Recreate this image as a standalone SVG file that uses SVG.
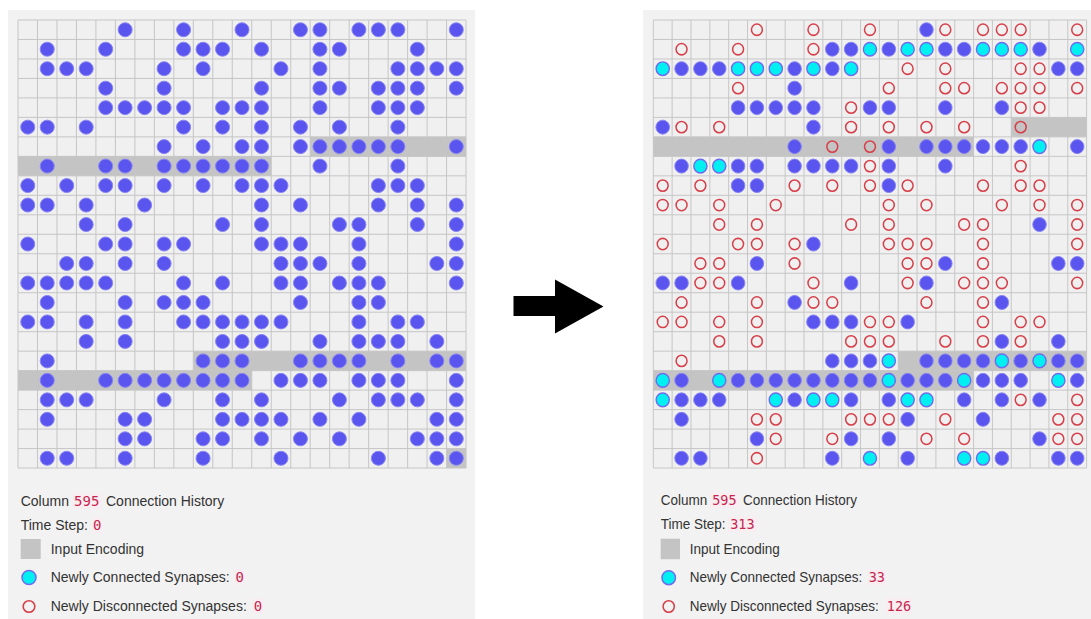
<svg xmlns="http://www.w3.org/2000/svg" xmlns:xlink="http://www.w3.org/1999/xlink" width="1091" height="619" viewBox="0 0 1091 619">
<style>
.panel{fill:#f2f2f2}
.cellbg{fill:#f0f0f0}
.band{fill:#c4c4c4}
.lines{fill:none;stroke:#c4c4c4;stroke-width:1}
.txt{font-family:"Liberation Sans",Arial,sans-serif;font-size:14px;fill:#333}
.code{font-family:"DejaVu Sans Mono","Liberation Mono",monospace;font-size:14px;fill:#c7254e;text-anchor:middle}
.codebg{fill:#f8eef2}
</style>
<defs>
<path id="lines" class="lines" d="M0 0V460M20 0V460M40 0V460M60 0V460M80 0V460M100 0V460M120 0V460M140 0V460M160 0V460M180 0V460M200 0V460M220 0V460M240 0V460M260 0V460M280 0V460M300 0V460M320 0V460M340 0V460M360 0V460M380 0V460M400 0V460M420 0V460M440 0V460M460 0V460M0 0H460M0 20H460M0 40H460M0 60H460M0 80H460M0 100H460M0 120H460M0 140H460M0 160H460M0 180H460M0 200H460M0 220H460M0 240H460M0 260H460M0 280H460M0 300H460M0 320H460M0 340H460M0 360H460M0 380H460M0 400H460M0 420H460M0 440H460M0 460H460"/>
<circle id="b" r="7.2" fill="#5a55ef" stroke="#8884f3" stroke-width="1"/>
<circle id="c" r="7" fill="#00f0f2" stroke="#6f6bee" stroke-width="1.5"/>
<circle id="r" r="5.8" fill="none" stroke="#d6404a" stroke-width="1.6"/>
</defs>
<rect width="1091" height="619" fill="#ffffff"/>

<g id="panel-left">
<rect class="panel" x="8" y="10" width="467" height="609"/>
<g id="grid-left" transform="translate(18,20) scale(0.974)">
<rect class="cellbg" width="460" height="460"/>
<rect class="band" x="300" y="120" width="160" height="20"/>
<rect class="band" x="0" y="140" width="260" height="20"/>
<rect class="band" x="180" y="340" width="280" height="20"/>
<rect class="band" x="0" y="360" width="240" height="20"/>
<rect class="band" x="440" y="440" width="20" height="20"/>
<use href="#lines"/>
<g transform="translate(0,10)"><use href="#b" x="110"/><use href="#b" x="170"/><use href="#b" x="230"/><use href="#b" x="290"/><use href="#b" x="310"/><use href="#b" x="350"/><use href="#b" x="370"/><use href="#b" x="390"/><use href="#b" x="450"/></g>
<g transform="translate(0,30)"><use href="#b" x="30"/><use href="#b" x="90"/><use href="#b" x="170"/><use href="#b" x="190"/><use href="#b" x="210"/><use href="#b" x="250"/><use href="#b" x="310"/><use href="#b" x="330"/><use href="#b" x="410"/></g>
<g transform="translate(0,50)"><use href="#b" x="30"/><use href="#b" x="50"/><use href="#b" x="70"/><use href="#b" x="150"/><use href="#b" x="190"/><use href="#b" x="270"/><use href="#b" x="310"/><use href="#b" x="390"/><use href="#b" x="410"/><use href="#b" x="430"/><use href="#b" x="450"/></g>
<g transform="translate(0,70)"><use href="#b" x="90"/><use href="#b" x="150"/><use href="#b" x="250"/><use href="#b" x="310"/><use href="#b" x="330"/><use href="#b" x="370"/><use href="#b" x="390"/><use href="#b" x="410"/><use href="#b" x="450"/></g>
<g transform="translate(0,90)"><use href="#b" x="90"/><use href="#b" x="110"/><use href="#b" x="130"/><use href="#b" x="150"/><use href="#b" x="170"/><use href="#b" x="210"/><use href="#b" x="230"/><use href="#b" x="250"/><use href="#b" x="310"/><use href="#b" x="370"/><use href="#b" x="390"/><use href="#b" x="410"/></g>
<g transform="translate(0,110)"><use href="#b" x="10"/><use href="#b" x="30"/><use href="#b" x="70"/><use href="#b" x="170"/><use href="#b" x="210"/><use href="#b" x="250"/><use href="#b" x="290"/><use href="#b" x="330"/><use href="#b" x="390"/></g>
<g transform="translate(0,130)"><use href="#b" x="150"/><use href="#b" x="190"/><use href="#b" x="230"/><use href="#b" x="250"/><use href="#b" x="290"/><use href="#b" x="310"/><use href="#b" x="330"/><use href="#b" x="350"/><use href="#b" x="370"/><use href="#b" x="390"/><use href="#b" x="450"/></g>
<g transform="translate(0,150)"><use href="#b" x="30"/><use href="#b" x="90"/><use href="#b" x="110"/><use href="#b" x="150"/><use href="#b" x="170"/><use href="#b" x="190"/><use href="#b" x="210"/><use href="#b" x="230"/><use href="#b" x="250"/><use href="#b" x="310"/><use href="#b" x="390"/></g>
<g transform="translate(0,170)"><use href="#b" x="10"/><use href="#b" x="50"/><use href="#b" x="90"/><use href="#b" x="110"/><use href="#b" x="150"/><use href="#b" x="190"/><use href="#b" x="230"/><use href="#b" x="250"/><use href="#b" x="270"/><use href="#b" x="370"/><use href="#b" x="390"/><use href="#b" x="410"/></g>
<g transform="translate(0,190)"><use href="#b" x="10"/><use href="#b" x="30"/><use href="#b" x="70"/><use href="#b" x="130"/><use href="#b" x="250"/><use href="#b" x="290"/><use href="#b" x="370"/><use href="#b" x="410"/><use href="#b" x="450"/></g>
<g transform="translate(0,210)"><use href="#b" x="70"/><use href="#b" x="110"/><use href="#b" x="210"/><use href="#b" x="250"/><use href="#b" x="330"/><use href="#b" x="350"/><use href="#b" x="410"/><use href="#b" x="450"/></g>
<g transform="translate(0,230)"><use href="#b" x="10"/><use href="#b" x="90"/><use href="#b" x="110"/><use href="#b" x="150"/><use href="#b" x="170"/><use href="#b" x="250"/><use href="#b" x="270"/><use href="#b" x="290"/><use href="#b" x="350"/><use href="#b" x="450"/></g>
<g transform="translate(0,250)"><use href="#b" x="50"/><use href="#b" x="70"/><use href="#b" x="110"/><use href="#b" x="150"/><use href="#b" x="270"/><use href="#b" x="290"/><use href="#b" x="310"/><use href="#b" x="350"/><use href="#b" x="430"/><use href="#b" x="450"/></g>
<g transform="translate(0,270)"><use href="#b" x="10"/><use href="#b" x="30"/><use href="#b" x="50"/><use href="#b" x="70"/><use href="#b" x="90"/><use href="#b" x="170"/><use href="#b" x="210"/><use href="#b" x="270"/><use href="#b" x="290"/><use href="#b" x="330"/><use href="#b" x="350"/><use href="#b" x="370"/><use href="#b" x="450"/></g>
<g transform="translate(0,290)"><use href="#b" x="30"/><use href="#b" x="110"/><use href="#b" x="150"/><use href="#b" x="170"/><use href="#b" x="190"/><use href="#b" x="290"/><use href="#b" x="350"/><use href="#b" x="370"/></g>
<g transform="translate(0,310)"><use href="#b" x="10"/><use href="#b" x="30"/><use href="#b" x="70"/><use href="#b" x="110"/><use href="#b" x="170"/><use href="#b" x="190"/><use href="#b" x="210"/><use href="#b" x="230"/><use href="#b" x="250"/><use href="#b" x="270"/><use href="#b" x="350"/><use href="#b" x="390"/><use href="#b" x="410"/></g>
<g transform="translate(0,330)"><use href="#b" x="70"/><use href="#b" x="110"/><use href="#b" x="210"/><use href="#b" x="230"/><use href="#b" x="250"/><use href="#b" x="310"/><use href="#b" x="350"/><use href="#b" x="370"/><use href="#b" x="390"/><use href="#b" x="430"/></g>
<g transform="translate(0,350)"><use href="#b" x="30"/><use href="#b" x="190"/><use href="#b" x="210"/><use href="#b" x="230"/><use href="#b" x="290"/><use href="#b" x="310"/><use href="#b" x="330"/><use href="#b" x="350"/><use href="#b" x="390"/><use href="#b" x="430"/><use href="#b" x="450"/></g>
<g transform="translate(0,370)"><use href="#b" x="30"/><use href="#b" x="90"/><use href="#b" x="110"/><use href="#b" x="130"/><use href="#b" x="150"/><use href="#b" x="170"/><use href="#b" x="190"/><use href="#b" x="210"/><use href="#b" x="230"/><use href="#b" x="270"/><use href="#b" x="290"/><use href="#b" x="310"/><use href="#b" x="350"/><use href="#b" x="370"/><use href="#b" x="390"/><use href="#b" x="450"/></g>
<g transform="translate(0,390)"><use href="#b" x="30"/><use href="#b" x="50"/><use href="#b" x="70"/><use href="#b" x="150"/><use href="#b" x="210"/><use href="#b" x="250"/><use href="#b" x="330"/><use href="#b" x="370"/><use href="#b" x="390"/><use href="#b" x="410"/><use href="#b" x="450"/></g>
<g transform="translate(0,410)"><use href="#b" x="30"/><use href="#b" x="110"/><use href="#b" x="130"/><use href="#b" x="210"/><use href="#b" x="230"/><use href="#b" x="250"/><use href="#b" x="270"/><use href="#b" x="310"/><use href="#b" x="350"/><use href="#b" x="430"/><use href="#b" x="450"/></g>
<g transform="translate(0,430)"><use href="#b" x="110"/><use href="#b" x="130"/><use href="#b" x="190"/><use href="#b" x="210"/><use href="#b" x="250"/><use href="#b" x="290"/><use href="#b" x="330"/><use href="#b" x="410"/><use href="#b" x="430"/><use href="#b" x="450"/></g>
<g transform="translate(0,450)"><use href="#b" x="30"/><use href="#b" x="50"/><use href="#b" x="110"/><use href="#b" x="190"/><use href="#b" x="270"/><use href="#b" x="370"/><use href="#b" x="430"/><use href="#b" x="450"/></g>
</g>
<g id="legend-left" transform="translate(20.7,0)">
<text class="txt" x="0" y="506">Column</text>
<rect class="codebg" x="51" y="493" width="30" height="16"/>
<text class="code" x="66" y="506">595</text>
<text class="txt" x="85.3" y="506">Connection History</text>
<text class="txt" x="0" y="530">Time Step:</text>
<rect class="codebg" x="71.5" y="517" width="10" height="16"/>
<text class="code" x="76.5" y="530">0</text>
<rect class="band" x="0" y="539" width="20" height="20"/>
<text class="txt" x="30" y="554">Input Encoding</text>
<use href="#c" x="8.3" y="577.5"/>
<text class="txt" x="30" y="582">Newly Connected Synapses:</text>
<rect class="codebg" x="214" y="569" width="10" height="16"/>
<text class="code" x="219" y="582">0</text>
<use href="#r" x="8.3" y="606.5"/>
<text class="txt" x="30" y="611">Newly Disconnected Synapses:</text>
<rect class="codebg" x="232.3" y="598" width="10" height="16"/>
<text class="code" x="237.3" y="611">0</text>
</g>
</g>

<g id="arrow">
<polygon points="513.5,296 555,296 555,279.5 603.5,306.5 555,333.5 555,316 513.5,316" fill="#000"/>
</g>

<g id="panel-right">
<rect class="panel" x="643" y="10" width="448" height="609"/>
<g id="grid-right" transform="translate(653.3,20) scale(0.942,0.974)">
<rect class="cellbg" width="460" height="460"/>
<rect class="band" x="380" y="100" width="80" height="20"/>
<rect class="band" x="0" y="120" width="340" height="20"/>
<rect class="band" x="260" y="340" width="200" height="20"/>
<rect class="band" x="0" y="360" width="340" height="20"/>
<use href="#lines"/>
<g transform="translate(0,10)"><use href="#r" x="110"/><use href="#r" x="170"/><use href="#r" x="230"/><use href="#b" x="290"/><use href="#r" x="310"/><use href="#r" x="350"/><use href="#r" x="370"/><use href="#r" x="390"/><use href="#r" x="450"/></g>
<g transform="translate(0,30)"><use href="#r" x="30"/><use href="#r" x="90"/><use href="#r" x="170"/><use href="#b" x="190"/><use href="#b" x="210"/><use href="#c" x="230"/><use href="#b" x="250"/><use href="#c" x="270"/><use href="#c" x="290"/><use href="#b" x="310"/><use href="#b" x="330"/><use href="#c" x="350"/><use href="#c" x="370"/><use href="#c" x="390"/><use href="#b" x="410"/><use href="#c" x="450"/></g>
<g transform="translate(0,50)"><use href="#c" x="10"/><use href="#b" x="30"/><use href="#b" x="50"/><use href="#b" x="70"/><use href="#c" x="90"/><use href="#c" x="110"/><use href="#c" x="130"/><use href="#b" x="150"/><use href="#c" x="170"/><use href="#b" x="190"/><use href="#c" x="210"/><use href="#r" x="270"/><use href="#r" x="310"/><use href="#r" x="390"/><use href="#r" x="410"/><use href="#b" x="430"/><use href="#b" x="450"/></g>
<g transform="translate(0,70)"><use href="#r" x="90"/><use href="#b" x="150"/><use href="#r" x="250"/><use href="#r" x="310"/><use href="#r" x="330"/><use href="#r" x="370"/><use href="#r" x="390"/><use href="#r" x="410"/><use href="#r" x="450"/></g>
<g transform="translate(0,90)"><use href="#b" x="90"/><use href="#b" x="110"/><use href="#b" x="130"/><use href="#b" x="150"/><use href="#b" x="170"/><use href="#r" x="210"/><use href="#b" x="230"/><use href="#b" x="250"/><use href="#b" x="310"/><use href="#b" x="370"/><use href="#r" x="390"/><use href="#r" x="410"/></g>
<g transform="translate(0,110)"><use href="#b" x="10"/><use href="#r" x="30"/><use href="#r" x="70"/><use href="#b" x="170"/><use href="#r" x="210"/><use href="#r" x="250"/><use href="#r" x="290"/><use href="#r" x="330"/><use href="#r" x="390"/></g>
<g transform="translate(0,130)"><use href="#b" x="150"/><use href="#r" x="190"/><use href="#r" x="230"/><use href="#b" x="250"/><use href="#b" x="290"/><use href="#b" x="310"/><use href="#b" x="330"/><use href="#b" x="350"/><use href="#b" x="370"/><use href="#b" x="390"/><use href="#c" x="410"/><use href="#b" x="450"/></g>
<g transform="translate(0,150)"><use href="#b" x="30"/><use href="#c" x="50"/><use href="#c" x="70"/><use href="#b" x="90"/><use href="#b" x="110"/><use href="#b" x="150"/><use href="#b" x="170"/><use href="#b" x="190"/><use href="#b" x="210"/><use href="#r" x="230"/><use href="#b" x="250"/><use href="#b" x="310"/><use href="#r" x="390"/></g>
<g transform="translate(0,170)"><use href="#r" x="10"/><use href="#r" x="50"/><use href="#b" x="90"/><use href="#b" x="110"/><use href="#r" x="150"/><use href="#r" x="190"/><use href="#r" x="230"/><use href="#b" x="250"/><use href="#r" x="270"/><use href="#r" x="350"/><use href="#r" x="390"/><use href="#r" x="410"/></g>
<g transform="translate(0,190)"><use href="#r" x="10"/><use href="#r" x="30"/><use href="#r" x="70"/><use href="#r" x="130"/><use href="#r" x="250"/><use href="#r" x="290"/><use href="#r" x="370"/><use href="#r" x="410"/><use href="#r" x="450"/></g>
<g transform="translate(0,210)"><use href="#r" x="70"/><use href="#r" x="110"/><use href="#r" x="210"/><use href="#r" x="250"/><use href="#r" x="330"/><use href="#r" x="350"/><use href="#b" x="410"/><use href="#r" x="450"/></g>
<g transform="translate(0,230)"><use href="#r" x="10"/><use href="#r" x="90"/><use href="#r" x="110"/><use href="#r" x="150"/><use href="#b" x="170"/><use href="#r" x="250"/><use href="#r" x="270"/><use href="#r" x="290"/><use href="#r" x="350"/><use href="#r" x="450"/></g>
<g transform="translate(0,250)"><use href="#r" x="50"/><use href="#r" x="70"/><use href="#b" x="110"/><use href="#r" x="150"/><use href="#r" x="270"/><use href="#r" x="290"/><use href="#b" x="310"/><use href="#r" x="350"/><use href="#b" x="430"/><use href="#b" x="450"/></g>
<g transform="translate(0,270)"><use href="#b" x="10"/><use href="#b" x="30"/><use href="#r" x="50"/><use href="#r" x="70"/><use href="#b" x="90"/><use href="#r" x="170"/><use href="#b" x="210"/><use href="#r" x="270"/><use href="#b" x="290"/><use href="#r" x="330"/><use href="#r" x="350"/><use href="#r" x="370"/><use href="#r" x="450"/></g>
<g transform="translate(0,290)"><use href="#r" x="30"/><use href="#r" x="110"/><use href="#b" x="150"/><use href="#r" x="170"/><use href="#r" x="190"/><use href="#r" x="290"/><use href="#r" x="350"/><use href="#b" x="370"/></g>
<g transform="translate(0,310)"><use href="#r" x="10"/><use href="#r" x="30"/><use href="#r" x="70"/><use href="#r" x="110"/><use href="#b" x="170"/><use href="#b" x="190"/><use href="#b" x="210"/><use href="#r" x="230"/><use href="#r" x="250"/><use href="#b" x="270"/><use href="#r" x="350"/><use href="#r" x="390"/><use href="#r" x="410"/></g>
<g transform="translate(0,330)"><use href="#r" x="70"/><use href="#r" x="110"/><use href="#r" x="210"/><use href="#r" x="230"/><use href="#r" x="250"/><use href="#r" x="310"/><use href="#r" x="350"/><use href="#b" x="370"/><use href="#r" x="390"/><use href="#b" x="430"/></g>
<g transform="translate(0,350)"><use href="#r" x="30"/><use href="#b" x="190"/><use href="#b" x="210"/><use href="#b" x="230"/><use href="#c" x="250"/><use href="#b" x="290"/><use href="#b" x="310"/><use href="#b" x="330"/><use href="#b" x="350"/><use href="#c" x="370"/><use href="#b" x="390"/><use href="#c" x="410"/><use href="#b" x="430"/><use href="#b" x="450"/></g>
<g transform="translate(0,370)"><use href="#c" x="10"/><use href="#b" x="30"/><use href="#c" x="70"/><use href="#b" x="90"/><use href="#b" x="110"/><use href="#b" x="130"/><use href="#b" x="150"/><use href="#b" x="170"/><use href="#b" x="190"/><use href="#b" x="210"/><use href="#b" x="230"/><use href="#c" x="250"/><use href="#b" x="270"/><use href="#b" x="290"/><use href="#b" x="310"/><use href="#c" x="330"/><use href="#b" x="350"/><use href="#b" x="370"/><use href="#b" x="390"/><use href="#c" x="430"/><use href="#b" x="450"/></g>
<g transform="translate(0,390)"><use href="#c" x="10"/><use href="#b" x="30"/><use href="#b" x="50"/><use href="#b" x="70"/><use href="#c" x="130"/><use href="#b" x="150"/><use href="#c" x="170"/><use href="#c" x="190"/><use href="#b" x="210"/><use href="#b" x="250"/><use href="#c" x="270"/><use href="#c" x="290"/><use href="#b" x="330"/><use href="#b" x="370"/><use href="#r" x="390"/><use href="#b" x="410"/><use href="#r" x="450"/></g>
<g transform="translate(0,410)"><use href="#b" x="30"/><use href="#r" x="110"/><use href="#r" x="130"/><use href="#r" x="210"/><use href="#r" x="230"/><use href="#r" x="250"/><use href="#b" x="270"/><use href="#r" x="310"/><use href="#b" x="350"/><use href="#r" x="430"/><use href="#r" x="450"/></g>
<g transform="translate(0,430)"><use href="#b" x="110"/><use href="#r" x="130"/><use href="#r" x="190"/><use href="#b" x="210"/><use href="#b" x="250"/><use href="#r" x="290"/><use href="#r" x="330"/><use href="#b" x="410"/><use href="#r" x="430"/><use href="#r" x="450"/></g>
<g transform="translate(0,450)"><use href="#b" x="30"/><use href="#b" x="50"/><use href="#r" x="110"/><use href="#b" x="190"/><use href="#c" x="230"/><use href="#b" x="270"/><use href="#c" x="330"/><use href="#c" x="350"/><use href="#b" x="370"/><use href="#b" x="430"/><use href="#b" x="450"/></g>
</g>
<g id="legend-right" transform="translate(660.7,-0.8) scale(0.965,1)">
<text class="txt" x="0" y="506">Column</text>
<rect class="codebg" x="51" y="493" width="30" height="16"/>
<text class="code" x="66" y="506">595</text>
<text class="txt" x="85.3" y="506">Connection History</text>
<text class="txt" x="0" y="530">Time Step:</text>
<rect class="codebg" x="70" y="517" width="29.5" height="16"/>
<text class="code" x="84.7" y="530">313</text>
<rect class="band" x="0" y="539.5" width="20" height="20.5"/>
<text class="txt" x="30" y="554.5">Input Encoding</text>
<use href="#c" x="8.3" y="578.5"/>
<text class="txt" x="30" y="583">Newly Connected Synapses:</text>
<rect class="codebg" x="214.5" y="570" width="19" height="16"/>
<text class="code" x="224" y="583">33</text>
<use href="#r" x="8.3" y="607.3"/>
<text class="txt" x="30" y="611.8">Newly Disconnected Synapses:</text>
<rect class="codebg" x="233.5" y="598.8" width="27" height="16"/>
<text class="code" x="247" y="611.8">126</text>
</g>
</g>
</svg>
